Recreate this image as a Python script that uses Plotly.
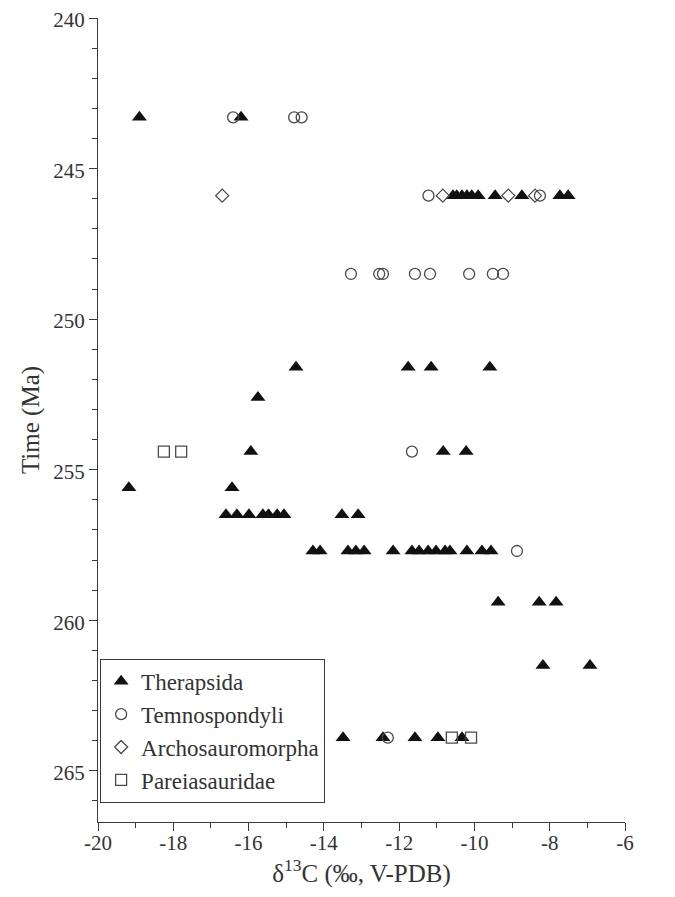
import plotly.graph_objects as go

# ---- data (δ13C in ‰, time in Ma) ----
ther_x = [-18.9, -16.2,
          -10.57, -10.47, -10.33, -10.2, -10.07, -9.9, -9.45, -8.74, -7.73, -7.51,
          -14.74, -11.76, -11.15, -9.59,
          -15.75,
          -15.94, -10.83, -10.22,
          -19.18, -16.44,
          -16.6, -16.31, -15.99, -15.62, -15.47, -15.24, -15.06, -13.52, -13.09,
          -14.29, -14.10, -13.36, -13.15, -12.93, -12.16, -11.66, -11.47, -11.23, -11.02, -10.78, -10.65, -10.2, -9.8, -9.56,
          -9.37, -8.28, -7.83,
          -8.18, -6.93,
          -13.49, -12.43, -11.58, -10.97, -10.33]
ther_y = [243.3, 243.3,
          245.9, 245.9, 245.9, 245.9, 245.9, 245.9, 245.9, 245.9, 245.9, 245.9,
          251.6, 251.6, 251.6, 251.6,
          252.6,
          254.4, 254.4, 254.4,
          255.6, 255.6,
          256.5, 256.5, 256.5, 256.5, 256.5, 256.5, 256.5, 256.5, 256.5,
          257.7, 257.7, 257.7, 257.7, 257.7, 257.7, 257.7, 257.7, 257.7, 257.7, 257.7, 257.7, 257.7, 257.7, 257.7,
          259.4, 259.4, 259.4,
          261.5, 261.5,
          263.9, 263.9, 263.9, 263.9, 263.9]

temno_x = [-16.41, -14.79, -14.59,
           -11.22, -8.26,
           -13.28, -12.53, -12.43, -11.58, -11.18, -10.14, -9.51, -9.24,
           -11.66,
           -8.87,
           -12.30]
temno_y = [243.3, 243.3, 243.3,
           245.9, 245.9,
           248.5, 248.5, 248.5, 248.5, 248.5, 248.5, 248.5, 248.5,
           254.4,
           257.7,
           263.9]

archo_x = [-16.7, -10.84, -9.1, -8.39]
archo_y = [245.9, 245.9, 245.9, 245.9]

pareia_x = [-18.25, -17.79, -10.6, -10.09]
pareia_y = [254.4, 254.4, 263.9, 263.9]

x_ticks = [-20, -18, -16, -14, -12, -10, -8, -6]
y_ticks = [240, 245, 250, 255, 260, 265]

FONT = "Liberation Serif, Times New Roman, serif"
AX = "#3a3a3a"
TXT = "#333333"

fig = go.Figure()
fig.add_trace(go.Scatter(x=ther_x, y=ther_y, mode="markers", name="Therapsida",
                         legendgroup="a",
                         marker=dict(symbol="triangle-up", size=13, color="#111111",
                                     line=dict(width=0))))
fig.add_trace(go.Scatter(x=temno_x, y=temno_y, mode="markers", name="Temnospondyli",
                         legendgroup="b",
                         marker=dict(symbol="circle-open", size=11, color="#4a4a4a",
                                     line=dict(width=1.3, color="#4a4a4a"))))
fig.add_trace(go.Scatter(x=archo_x, y=archo_y, mode="markers", name="Archosauromorpha",
                         legendgroup="c",
                         marker=dict(symbol="diamond-open", size=10, color="#4a4a4a",
                                     line=dict(width=1.3, color="#4a4a4a"))))
fig.add_trace(go.Scatter(x=pareia_x, y=pareia_y, mode="markers", name="Pareiasauridae",
                         legendgroup="d",
                         marker=dict(symbol="square-open", size=11, color="#4a4a4a",
                                     line=dict(width=1.3, color="#4a4a4a"))))

fig.update_layout(
    width=675, height=897,
    margin=dict(l=90, r=58, t=10, b=83),
    paper_bgcolor="white", plot_bgcolor="white",
    font=dict(family=FONT, color=TXT, size=21),
    showlegend=True,
    legend=dict(x=0.004, y=0.203, xanchor="left", yanchor="top",
                bordercolor=AX, borderwidth=1, bgcolor="white",
                font=dict(family=FONT, size=23, color=TXT),
                tracegroupgap=0, traceorder="normal",
                itemwidth=30),
)
fig.update_xaxes(range=[-20, -6], tickvals=x_ticks,
                 ticktext=[str(v) for v in x_ticks],
                 ticks="outside", ticklen=8, tickcolor=AX, tickwidth=1,
                 minor=dict(dtick=1, ticks="outside", ticklen=5, tickcolor=AX),
                 showline=True, linecolor=AX, linewidth=1, mirror=False,
                 showgrid=False, zeroline=False, automargin=False,
                 ticklabeloverflow="allow", ticklabelstandoff=-6,
                 tickfont=dict(family=FONT, size=21, color=TXT),
                 title=dict(text="δ<sup>13</sup>C (‰, V-PDB)", standoff=2,
                            font=dict(family=FONT, size=25, color=TXT)))
fig.update_yaxes(range=[266.7, 240], tickvals=y_ticks,
                 ticktext=[str(v) for v in y_ticks],
                 ticks="outside", ticklen=8, tickcolor=AX, tickwidth=1,
                 minor=dict(dtick=1, tick0=240, ticks="outside", ticklen=5, tickcolor=AX),
                 showline=True, linecolor=AX, linewidth=1, mirror=False,
                 showgrid=False, zeroline=False, automargin=False,
                 ticklabeloverflow="allow", ticklabelshift=-2,
                 tickfont=dict(family=FONT, size=21, color=TXT),
                 title=dict(text="Time (Ma)", standoff=6,
                            font=dict(family=FONT, size=25, color=TXT)))

fig.write_html("out.html")
